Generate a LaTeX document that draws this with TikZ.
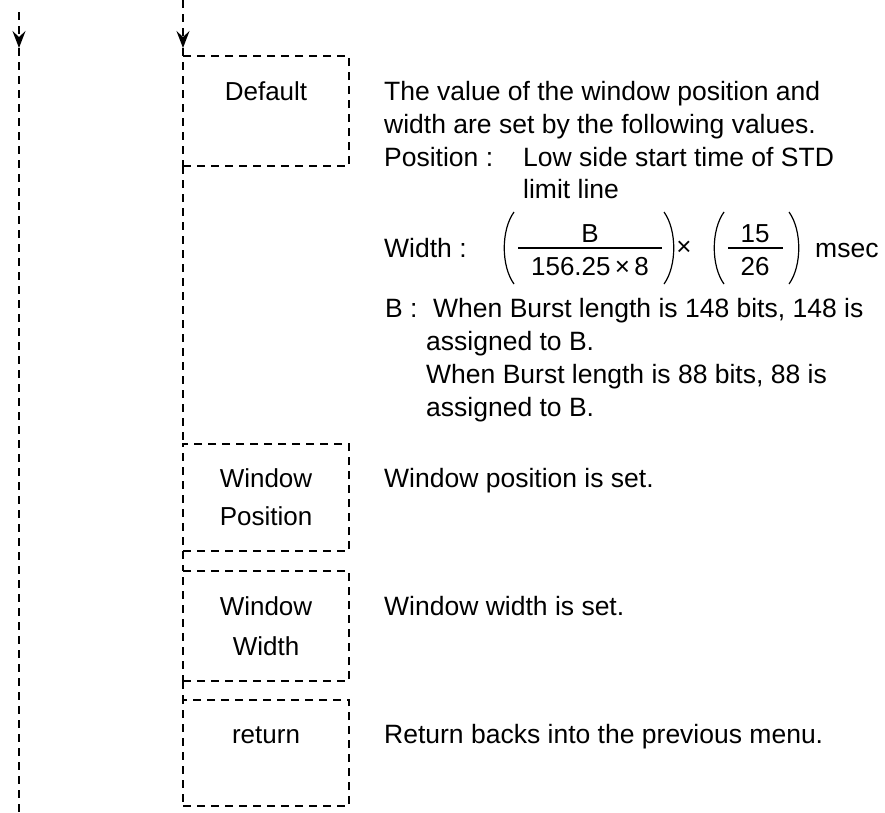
\documentclass[tikz,border=0pt]{standalone}
\usepackage{fontspec}
\setmainfont{Liberation Sans}
\usetikzlibrary{arrows.meta}
\tikzset{
  dline/.style={line width=1.4pt, dash pattern=on 8pt off 6pt},
  boxnode/.style={draw, line width=1.4pt, dash pattern=on 8pt off 6pt, minimum width=166pt, inner sep=0pt, outer sep=0pt},
  btext/.style={anchor=base, inner sep=0pt, font=\fontsize{26}{30}\selectfont},
  dtext/.style={anchor=base west, inner sep=0pt, font=\fontsize{26.5}{30}\selectfont},
  ctext/.style={anchor=base, inner sep=0pt, font=\fontsize{26}{30}\selectfont},
  tip/.style={-{Stealth[length=17pt,width=13pt,inset=6pt]}},
  paren/.style={line width=1.2pt}
}
\begin{document}
\begin{tikzpicture}[x=1pt,y=-1pt]
\useasboundingbox (0,0) rectangle (885,812);

% boxes
\node[boxnode, minimum height=110pt] (def) at (266,111) {};
\node[boxnode, minimum height=107pt] (wpos) at (266,497.5) {};
\node[boxnode, minimum height=110pt] (wwid) at (266,626) {};
\node[boxnode, minimum height=106pt] (ret) at (266,753) {};

% left flow line
\coordinate (Ltop) at (19,12);
\coordinate (Larr) at (19,48);
\coordinate (Lbot) at (19,812);
\draw[dline,tip] (Ltop) -- (Larr);
\draw[dline] (Larr) -- (Lbot);

% second flow line
\coordinate (Mtop) at (183,0);
\coordinate (Marr) at (183,48);
\draw[dline,tip] (Mtop) -- (Marr);
\draw[dline] (Marr) -- (def.north west);
\draw[dline] (def.south west) -- (wpos.north west);
\draw[dline] (wpos.south west) -- (wwid.north west);
\draw[dline] (wwid.south west) -- (ret.north west);

% box texts
\node[btext] (tdef) at (266,100) {Default};
\node[btext] (twp1) at (266,487) {Window};
\node[btext] (twp2) at (266,525) {Position};
\node[btext] (tww1) at (266,615) {Window};
\node[btext] (tww2) at (266,655) {Width};
\node[btext] (tret) at (266,743) {return};

% description of Default
\node[dtext] (d1) at (384,100) {The value of the window position and};
\node[dtext] (d2) at (384,133) {width are set by the following values.};
\node[dtext] (d3) at (384,166) {Position :};
\node[dtext] (d3b) at (523,166) {Low side start time of STD};
\node[dtext] (d4) at (523,198) {limit line};
\node[dtext] (d5) at (384,257) {Width :};

% formula
\draw[line width=1.4pt] (518,248) -- (662,248);
\node[ctext] (fnum1) at (590,242) {B};
\node[ctext] (fden1) at (590,275) {156.25\,×\,8};
\draw[paren] (514,212) .. controls (501,230) and (501,266) .. (514,284);
\draw[paren] (664,212) .. controls (677,230) and (677,266) .. (664,284);
\node[ctext] (ftimes) at (684,255) {×};
\draw[line width=1.4pt] (728,248) -- (783,248);
\node[ctext] (fnum2) at (755,242) {15};
\node[ctext] (fden2) at (755,275) {26};
\draw[paren] (724,212) .. controls (711,230) and (711,266) .. (724,284);
\draw[paren] (789,212) .. controls (802,230) and (802,266) .. (789,284);
\node[dtext] (fmsec) at (815,257) {msec};

% B explanation
\node[dtext] (b0) at (385,317) {B :};
\node[dtext] (b1) at (433,317) {When Burst length is 148 bits, 148 is};
\node[dtext] (b2) at (426,350) {assigned to B.};
\node[dtext] (b3) at (426,383) {When Burst length is 88 bits, 88 is};
\node[dtext] (b4) at (426,416) {assigned to B.};

% other descriptions
\node[dtext] (dwp) at (384,487) {Window position is set.};
\node[dtext] (dww) at (384,615) {Window width is set.};
\node[dtext] (dret) at (384,743) {Return backs into the previous menu.};
\end{tikzpicture}
\end{document}
